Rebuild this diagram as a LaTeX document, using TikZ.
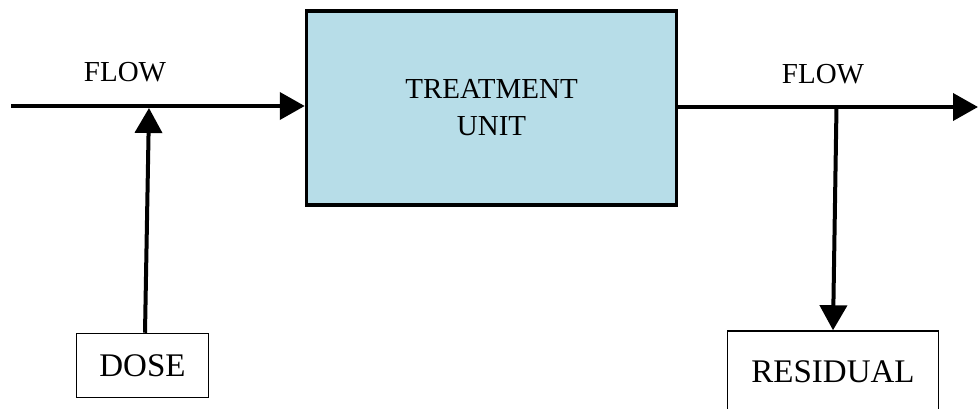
\documentclass[tikz,border=0pt]{standalone}
\usepackage{fontspec}
\setmainfont{Liberation Serif}
\usetikzlibrary{arrows.meta}
\definecolor{unitblue}{RGB}{183,221,232}

\begin{document}
\begin{tikzpicture}[x=1pt, y=-1pt,
    flow/.style={line width=4pt, -{Triangle[length=25pt, width=27pt]}},
    unitbox/.style={draw, line width=3.5pt, fill=unitblue, minimum width=370pt, minimum height=194pt, align=center, font=\fontsize{29}{37}\selectfont},
    endbox/.style={draw, line width=1.5pt, font=\fontsize{33}{40}\selectfont},
    flowlabel/.style={font=\fontsize{29}{35}\selectfont}]
        \clip (0,0) rectangle (978,409);
        \node[unitbox] (unit) at (491.5,108) {TREATMENT\\UNIT};
        \node[endbox, minimum width=132pt, minimum height=64pt] (dose) at (142.5,365.5) {DOSE};
        \node[endbox, minimum width=211pt, minimum height=81pt] (residual) at (833,371.5) {RESIDUAL};
        \node[flowlabel] (flowin) at (125,72) {FLOW};
        \node[flowlabel] (flowout) at (823,74) {FLOW};
        \coordinate (in) at (11,106);
        \coordinate (mix) at (149,108);
        \coordinate (split) at (836.5,107);
        \coordinate (out) at (978,107);
        \draw[flow] (in) -- (in -| unit.west);
        \draw[flow] ([xshift=2.5pt]dose.north) -- (mix);
        \draw[flow] (out -| unit.east) -- (out);
        \draw[flow] (split) -- (residual.north);
        % \node at (split)[circle, fill, inner sep=1.5pt]{};
\end{tikzpicture}
\end{document}
